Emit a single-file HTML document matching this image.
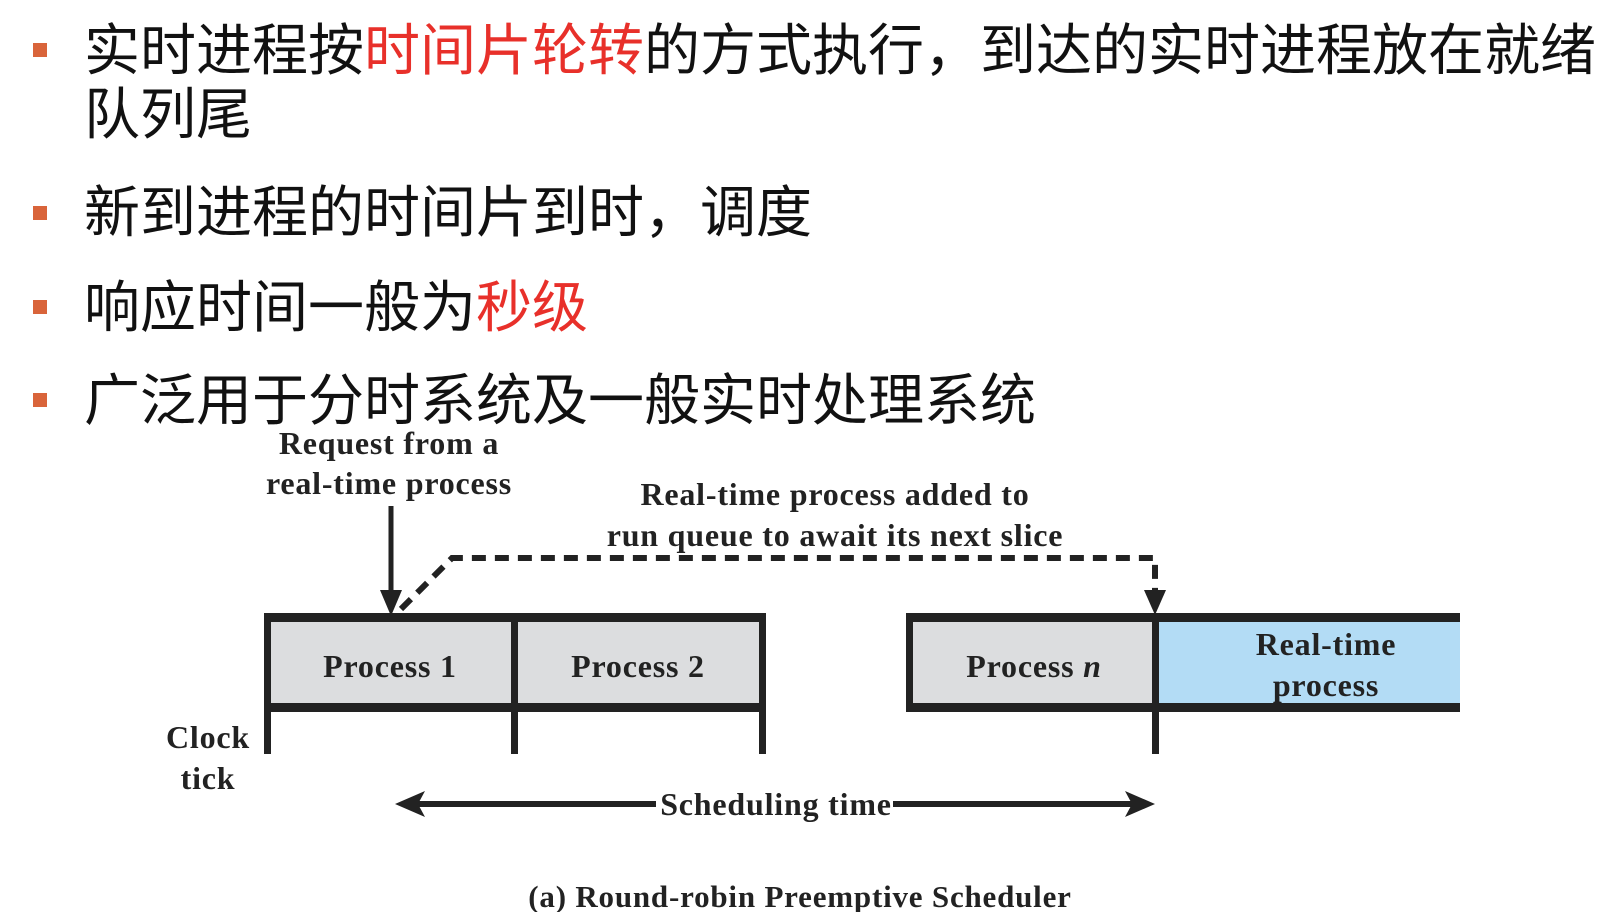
<!DOCTYPE html>
<html><head><meta charset="utf-8"><style>
html,body{margin:0;padding:0;background:#fff;}
body{width:1604px;height:912px;position:relative;overflow:hidden;}
.b{position:absolute;left:33px;width:14px;height:14px;background:#d9643a;}
.t{position:absolute;left:84px;font-family:"Liberation Sans","Noto Sans CJK SC",sans-serif;font-size:56px;line-height:64px;color:#111;white-space:nowrap;}
.r{color:#e8302a;}
svg{position:absolute;left:0;top:0;}
svg text{font-family:"Liberation Serif",serif;font-weight:bold;fill:#222;letter-spacing:0.8px;}
</style></head><body>
<div class="b" style="top:43px"></div>
<div class="t" style="top:19px">实时进程按<span class="r">时间片轮转</span>的方式执行，到达的实时进程放在就绪</div>
<div class="t" style="top:83px">队列尾</div>
<div class="b" style="top:206px"></div>
<div class="t" style="top:181px">新到进程的时间片到时，调度</div>
<div class="b" style="top:300px"></div>
<div class="t" style="top:276px">响应时间一般为<span class="r">秒级</span></div>
<div class="b" style="top:393px"></div>
<div class="t" style="top:369px">广泛用于分时系统及一般实时处理系统</div>
<svg width="1604" height="912" viewBox="0 0 1604 912">
<g font-size="32" text-anchor="middle">
<text x="389" y="454">Request from a</text>
<text x="389" y="494">real-time process</text>
<text x="835" y="505">Real-time process added to</text>
<text x="835" y="546">run queue to await its next slice</text>
</g>
<line x1="391" y1="506" x2="391" y2="598" stroke="#222" stroke-width="5"/>
<polygon points="380,590 402,590 391,616" fill="#222"/>
<polyline points="401,609 452,558 1155,558 1155,592" fill="none" stroke="#222" stroke-width="6" stroke-dasharray="14,9"/>
<polygon points="1144,590 1166,590 1155,615" fill="#222"/>
<rect x="267" y="621" width="496" height="83" fill="#dcdddf"/>
<rect x="909" y="621" width="246" height="83" fill="#dcdddf"/>
<rect x="1155" y="621" width="305" height="83" fill="#b3dcf5"/>
<g fill="#222">
<rect x="264" y="613" width="502" height="9"/>
<rect x="264" y="703" width="502" height="9"/>
<rect x="264" y="613" width="7" height="141"/>
<rect x="511" y="613" width="7" height="141"/>
<rect x="759" y="613" width="7" height="141"/>
<rect x="906" y="613" width="554" height="9"/>
<rect x="906" y="703" width="554" height="9"/>
<rect x="906" y="613" width="7" height="99"/>
<rect x="1152" y="613" width="7" height="141"/>
</g>
<g font-size="32" text-anchor="middle">
<text x="390" y="677">Process 1</text>
<text x="638" y="677">Process 2</text>
<text x="1034" y="677">Process <tspan font-style="italic">n</tspan></text>
<text x="1326" y="655">Real-time</text>
<text x="1326" y="696">process</text>
<text x="208" y="748">Clock</text>
<text x="208" y="789">tick</text>
<text x="776" y="815">Scheduling time</text>
<text x="800" y="907" font-size="31" letter-spacing="1.2">(a) Round-robin Preemptive Scheduler</text>
</g>
<line x1="410" y1="804" x2="656" y2="804" stroke="#222" stroke-width="6"/>
<line x1="893" y1="804" x2="1140" y2="804" stroke="#222" stroke-width="6"/>
<polygon points="395,804 425,791 418,804 425,817" fill="#222"/>
<polygon points="1155,804 1125,791 1132,804 1125,817" fill="#222"/>
</svg>
</body></html>
